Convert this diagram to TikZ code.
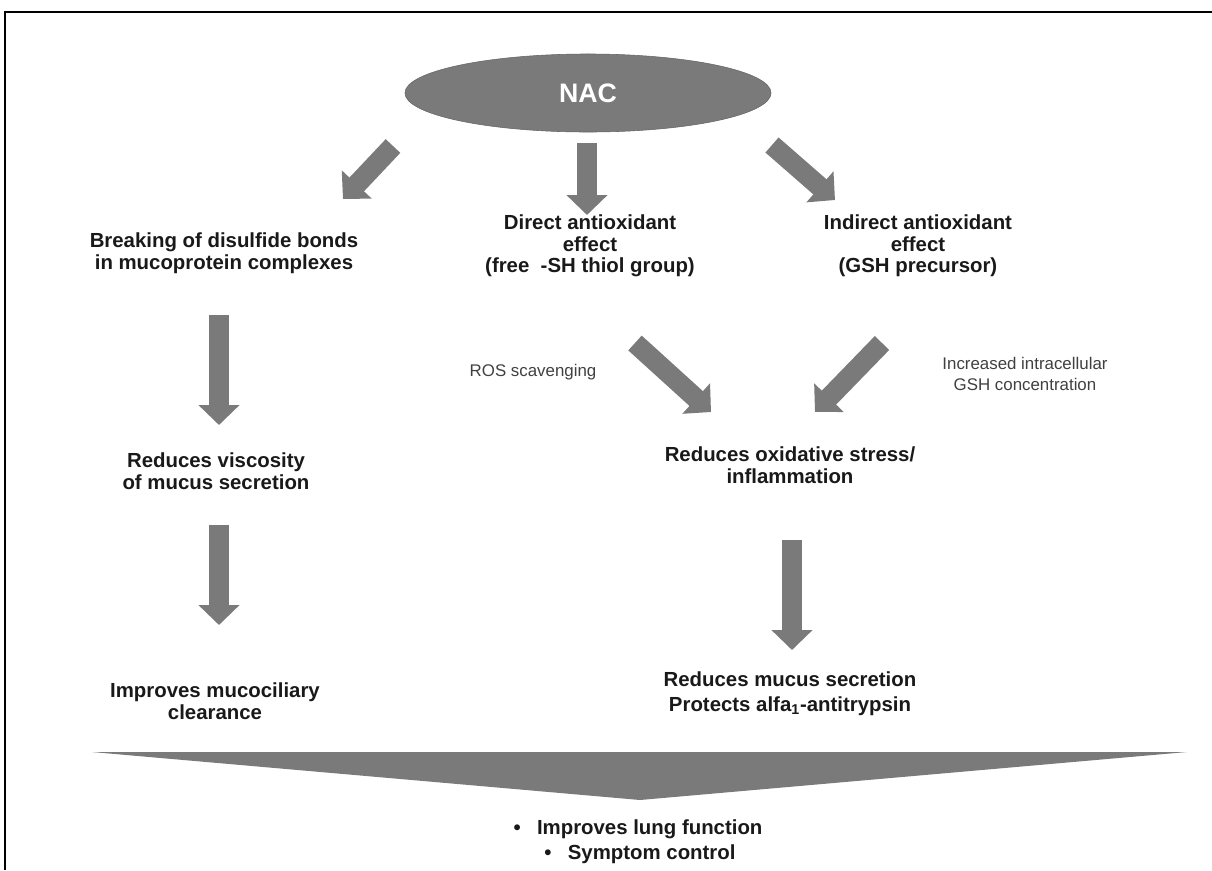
\documentclass[tikz,border=0pt]{standalone}
\usepackage{fontspec}
\setmainfont{Liberation Sans}
\usetikzlibrary{arrows.meta}
\usetikzlibrary{positioning}
\usetikzlibrary{shapes.geometric}

\definecolor{boxgray}{RGB}{122,122,122}

\tikzset{
  fat/.style={draw=boxgray, line width=0.5cm, -{Triangle[length=0.5cm, width=1cm]}},
  lbl/.style={align=center, inner sep=0pt, text=black!90, font=\fontsize{14.5}{15.3}\selectfont\bfseries},
  note/.style={align=center, inner sep=0pt, text=black!75, font=\fontsize{12}{15}\selectfont},
}

\begin{document}
\begin{tikzpicture}[x=0.025cm, y=-0.025cm]
  \useasboundingbox (0,0) rectangle (1212,870);

  % ---------- Frame ----------
  \draw[line width=1.5pt] (5,870) -- (5,12) -- (1212,12);

  % ---------- Top ----------
  \node[ellipse, fill=boxgray, draw=black!60, minimum width=9.15cm, minimum height=1.95cm,
        text=white, font=\fontsize{19}{23}\selectfont\bfseries] at (588,93) (nac) {NAC};

  % Labels
  \node[lbl] at (224,253) (brk) {Breaking of disulfide bonds\\in mucoprotein complexes};
  \node[lbl] at (590,246) (dir) {Direct antioxidant\\effect\\(free\ \ -SH thiol group)};
  \node[lbl] at (918,246) (ind) {Indirect antioxidant\\effect\\(GSH precursor)};

  % ---------- Left column ----------
  \node[lbl] at (216,471) (visc) {Reduces viscosity\\of mucus secretion};
  \node[lbl] at (215,701) (muco) {Improves mucociliary\\clearance};

  % ---------- Right column ----------
  \node[note] at (533,372) (ros) {ROS scavenging};
  \node[note] at (1025,374) (gsh) {Increased intracellular\\GSH concentration};
  \node[lbl] at (790,465) (ox) {Reduces oxidative stress/\\inflammation};
  \node[lbl] at (790,679) (mucus) {Reduces mucus secretion};
  \node[lbl] at (790,706) (alfa) {Protects alfa\textsubscript{1}-antitrypsin};

  % ---------- Bottom ----------
  \node[lbl] at (638,829) (lung) {\textbullet\hspace{0.8em}Improves lung function};
  \node[lbl] at (640,854) (sym) {\textbullet\hspace{0.8em}Symptom control};

  % ---------- Arrows ----------
  \coordinate (a1) at (393,146);  \coordinate (b1) at (343,199);
  \coordinate (a2) at (587,143);  \coordinate (b2) at (587,215);
  \coordinate (a3) at (772,145);  \coordinate (b3) at (835,200);
  \coordinate (a4) at (219,315);  \coordinate (b4) at (219,425);
  \coordinate (a5) at (219,525);  \coordinate (b5) at (219,625);
  \coordinate (a6) at (635,343);  \coordinate (b6) at (711,412);
  \coordinate (a7) at (882,343);  \coordinate (b7) at (815,412);
  \coordinate (a8) at (792,540);  \coordinate (b8) at (792,650);

  \draw[fat] (a1) -- (b1);
  \draw[fat] (a2) -- (b2);
  \draw[fat] (a3) -- (b3);
  \draw[fat] (a4) -- (b4);
  \draw[fat] (a5) -- (b5);
  \draw[fat] (a6) -- (b6);
  \draw[fat] (a7) -- (b7);
  \draw[fat] (a8) -- (b8);

  % big chevron
  \fill[boxgray] (92,752) -- (1187,752) -- (640,800) -- cycle;
\end{tikzpicture}
\end{document}
